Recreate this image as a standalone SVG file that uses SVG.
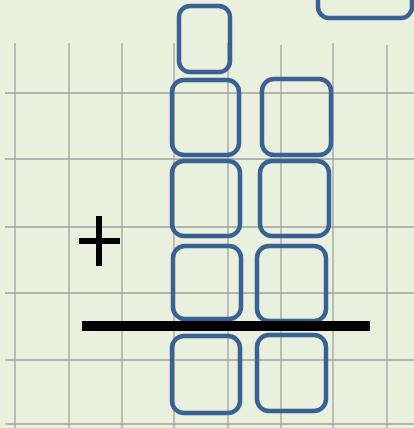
<svg xmlns="http://www.w3.org/2000/svg" width="414" height="428" viewBox="0 0 414 428">
<style>
.grid{stroke:#9fa29e;stroke-width:1.3;fill:none}
.box{fill:none;stroke:#3a6194;stroke-width:4.5}
.ink{stroke:#000;fill:none}
</style>
<rect x="0" y="0" width="414" height="428" fill="#e9f1de"/>
<g id="grid" class="grid">
<line x1="15" y1="43" x2="15" y2="428"/>
<line x1="69" y1="43" x2="69" y2="428"/>
<line x1="122" y1="43" x2="122" y2="428"/>
<line x1="174" y1="43" x2="174" y2="428"/>
<line x1="228" y1="43" x2="228" y2="428"/>
<line x1="281" y1="45" x2="281" y2="428"/>
<line x1="333" y1="43" x2="333" y2="428"/>
<line x1="387" y1="45" x2="387" y2="428"/>
<line x1="5" y1="93" x2="414" y2="93"/>
<line x1="5" y1="159" x2="414" y2="159"/>
<line x1="5" y1="227" x2="414" y2="227"/>
<line x1="5" y1="293" x2="414" y2="293"/>
<line x1="5" y1="360" x2="414" y2="360"/>
<line x1="5" y1="424" x2="414" y2="424"/>
</g>
<g id="box-top-right"><rect class="box" x="318" y="-12" width="94" height="30" rx="11"/></g>
<g id="box-c1-r0"><rect class="box" x="179" y="6" width="51" height="66" rx="11"/></g>
<g id="box-c1-r1"><rect class="box" x="172" y="80" width="67" height="75" rx="12"/></g>
<g id="box-c1-r2"><rect class="box" x="172" y="161" width="68" height="75" rx="12"/></g>
<g id="box-c1-r3"><rect class="box" x="173" y="246" width="68" height="73" rx="12"/></g>
<g id="box-c1-r4"><rect class="box" x="172" y="336" width="68" height="77" rx="12"/></g>
<g id="box-c2-r1"><rect class="box" x="262" y="79" width="69" height="76" rx="12"/></g>
<g id="box-c2-r2"><rect class="box" x="260" y="161" width="69" height="75" rx="12"/></g>
<g id="box-c2-r3"><rect class="box" x="257" y="246" width="69" height="75" rx="12"/></g>
<g id="box-c2-r4"><rect class="box" x="257" y="335" width="69" height="76" rx="12"/></g>
<g id="plus" class="ink" stroke-width="6">
<line x1="79" y1="241" x2="120" y2="241"/>
<line x1="99" y1="216" x2="99" y2="266"/>
</g>
<g id="sum-line"><line class="ink" x1="82" y1="326" x2="370" y2="326" stroke-width="10"/></g>
<g id="connectors"></g>
</svg>
